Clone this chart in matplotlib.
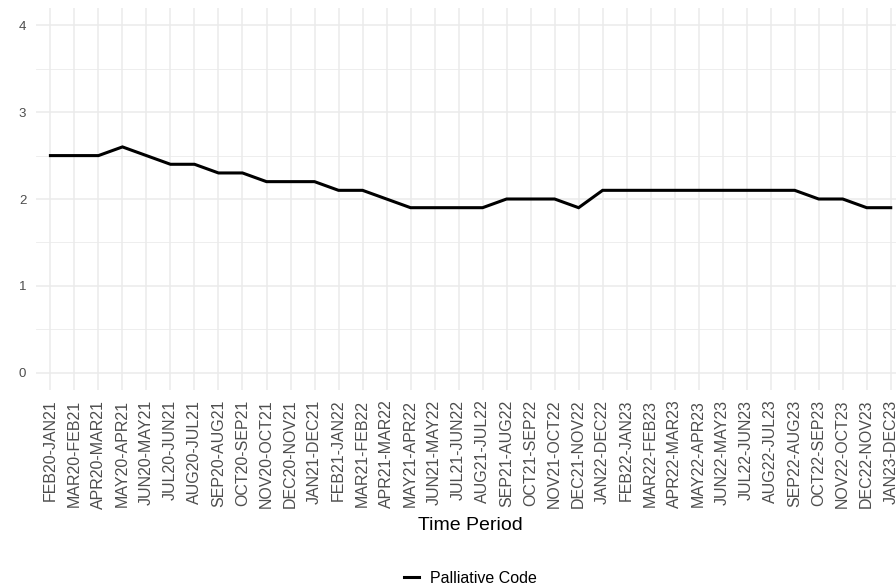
import matplotlib.pyplot as plt
from matplotlib.ticker import MultipleLocator

periods = [
    "FEB20-JAN21", "MAR20-FEB21", "APR20-MAR21", "MAY20-APR21", "JUN20-MAY21",
    "JUL20-JUN21", "AUG20-JUL21", "SEP20-AUG21", "OCT20-SEP21", "NOV20-OCT21",
    "DEC20-NOV21", "JAN21-DEC21", "FEB21-JAN22", "MAR21-FEB22", "APR21-MAR22",
    "MAY21-APR22", "JUN21-MAY22", "JUL21-JUN22", "AUG21-JUL22", "SEP21-AUG22",
    "OCT21-SEP22", "NOV21-OCT22", "DEC21-NOV22", "JAN22-DEC22", "FEB22-JAN23",
    "MAR22-FEB23", "APR22-MAR23", "MAY22-APR23", "JUN22-MAY23", "JUL22-JUN23",
    "AUG22-JUL23", "SEP22-AUG23", "OCT22-SEP23", "NOV22-OCT23", "DEC22-NOV23",
    "JAN23-DEC23",
]

palliative = [
    2.5, 2.5, 2.5, 2.6, 2.5, 2.4, 2.4, 2.3, 2.3, 2.2,
    2.2, 2.2, 2.1, 2.1, 2.0, 1.9, 1.9, 1.9, 1.9, 2.0,
    2.0, 2.0, 1.9, 2.1, 2.1, 2.1, 2.1, 2.1, 2.1, 2.1,
    2.1, 2.1, 2.0, 2.0, 1.9, 1.9,
]

plt.rcParams["font.family"] = ["Liberation Sans", "DejaVu Sans"]

fig = plt.figure(figsize=(8.96, 5.88), dpi=100)
# panel runs past the right edge, as in the cropped original
ax = fig.add_axes([0.0402, 0.3367, 0.970, 0.6497])

x = list(range(len(periods)))
line, = ax.plot(x, palliative, color="black", linewidth=2.2,
                solid_joinstyle="miter", label="Palliative Code")

ax.set_xlim(-0.6, len(periods) - 1 + 0.6)
ax.set_ylim(-0.2, 4.2)
ax.set_xticks(x)
ax.set_xticklabels(periods, rotation=90, fontsize=11.5, color="#4D4D4D")
ax.yaxis.set_major_locator(MultipleLocator(1))
ax.yaxis.set_minor_locator(MultipleLocator(0.5))
ax.tick_params(axis="y", labelsize=9.5, labelcolor="#4D4D4D")
ax.tick_params(axis="both", which="both", length=0)
ax.tick_params(axis="x", pad=7)
ax.tick_params(axis="y", pad=7)

ax.grid(True, which="major", color="#EBEBEB", linewidth=1.1)
ax.grid(True, which="minor", axis="y", color="#EBEBEB", linewidth=0.6)
ax.set_axisbelow(True)
for s in ax.spines.values():
    s.set_visible(False)

ax.set_xlabel("Time Period", fontsize=14, va="top")
ax.xaxis.set_label_coords(0.5, -0.333)

fig.legend(handles=[line], loc="center", bbox_to_anchor=(0.525, 0.017),
           frameon=False, fontsize=11.5, handlelength=0.9, handletextpad=0.7)

fig.savefig("out.png", dpi=100)
